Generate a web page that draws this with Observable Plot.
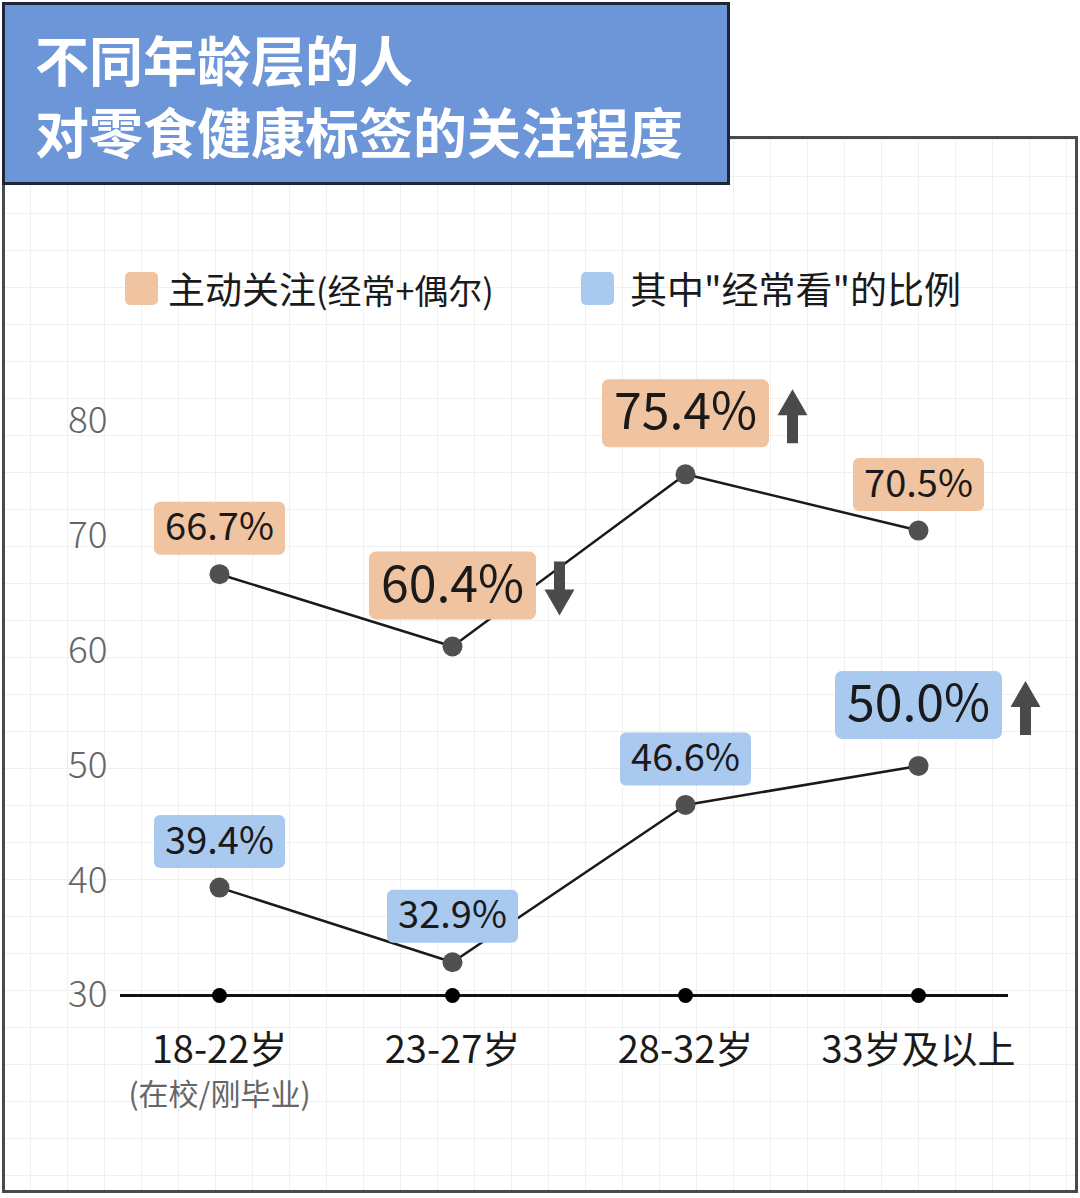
<!DOCTYPE html>
<html>
<head>
<meta charset="utf-8">
<script src="https://cdn.jsdelivr.net/npm/d3@7"></script>
<script src="https://cdn.jsdelivr.net/npm/@observablehq/plot@0.6"></script>
<style>
  html, body { margin: 0; padding: 0; background: #ffffff; }
  body { font-family: "Noto Sans CJK SC", "Noto Sans", sans-serif; }
  #page { position: relative; width: 1080px; height: 1198px; overflow: hidden; }
  #frame {
    position: absolute; left: 2px; top: 136px; width: 1070px; height: 1051px;
    border: 3px solid #4a4a4a;
    background-image: linear-gradient(#f0f0f0 1px, transparent 1px), linear-gradient(90deg, #f0f0f0 1px, transparent 1px);
    background-size: 37px 37px;
    background-position: 25px 0px;
    z-index: 0;
  }
  #chart { position: absolute; left: 0; top: 0; z-index: 1; }
  #title {
    position: absolute; left: 2px; top: 2px; width: 692px; height: 159px;
    padding: 18px 0 0 30px;
    background: #6c96d8; border: 3px solid #1f2636;
    color: #ffffff; font-weight: 700; font-size: 54px; line-height: 72px;
    z-index: 2;
  }
  #legend { position: absolute; left: 0; top: 0; z-index: 2; }
  .item { position: absolute; top: 262px; height: 52px; display: flex; align-items: center; font-size: 37px; color: #1a1a1a; white-space: nowrap; }
  .sw { width: 33px; height: 33px; border-radius: 5px; }
  .sm { font-size: 34px; }
</style>
</head>
<body>
<div id="page">
  <div id="frame"></div>
  <div id="chart"></div>
  <div id="title"></div>
  <div id="legend"></div>
</div>
<script>
// ---- data ----
const titleLines = ["不同年龄层的人", "对零食健康标签的关注程度"];
const ageGroups = ["18-22岁", "23-27岁", "28-32岁", "33岁及以上"];
const ageNotes = ["(在校/刚毕业)", "", "", ""];
const seriesNames = ["主动关注(经常+偶尔)", "其中\"经常看\"的比例"];
const activeAttention = [66.7, 60.4, 75.4, 70.5];
const frequentShare = [39.4, 32.9, 46.6, 50.0];
const yTicks = [30, 40, 50, 60, 70, 80];
// highlighted (large) labels with trend arrows: [series index, age index, direction]
const highlights = [[0, 1, "down"], [0, 2, "up"], [1, 3, "up"]];

// ---- styles ----
const seriesFill = ["#f1c4a1", "#a9c9ef"];

// ---- build table ----
const rows = [];
[activeAttention, frequentShare].forEach((vals, s) => {
  vals.forEach((v, i) => {
    const h = highlights.find(d => d[0] === s && d[1] === i);
    rows.push({series: s, age: ageGroups[i], value: v, big: !!h, dir: h ? h[2] : null});
  });
});

// ---- custom symbols ----
function roundRect(w, h, r) {
  return {draw(ctx) {
    const x0 = -w / 2, y0 = -h / 2, x1 = w / 2, y1 = h / 2;
    ctx.moveTo(x0 + r, y0);
    ctx.lineTo(x1 - r, y0); ctx.arcTo(x1, y0, x1, y0 + r, r);
    ctx.lineTo(x1, y1 - r); ctx.arcTo(x1, y1, x1 - r, y1, r);
    ctx.lineTo(x0 + r, y1); ctx.arcTo(x0, y1, x0, y1 - r, r);
    ctx.lineTo(x0, y0 + r); ctx.arcTo(x0, y0, x0 + r, y0, r);
    ctx.closePath();
  }};
}
function blockArrow(dir) {
  const s = dir === "up" ? 1 : -1;
  return {draw(ctx) {
    ctx.moveTo(0, -27 * s);
    ctx.lineTo(15, -1 * s);
    ctx.lineTo(5.5, -1 * s);
    ctx.lineTo(5.5, 27 * s);
    ctx.lineTo(-5.5, 27 * s);
    ctx.lineTo(-5.5, -1 * s);
    ctx.lineTo(-15, -1 * s);
    ctx.closePath();
  }};
}
const smallBox = roundRect(131, 53, 6);
const bigBox = roundRect(167, 68, 7);

const marks = [];
// baseline
marks.push(Plot.ruleY([30], {stroke: "#111", strokeWidth: 3, insetLeft: -99, insetRight: -90}));
marks.push(Plot.dot(ageGroups, {x: d => d, y: () => 30, r: 7.5, fill: "#000", stroke: "none"}));
// lines
marks.push(Plot.line(rows, {x: "age", y: "value", z: "series", stroke: "#1a1a1a", strokeWidth: 2.5}));
marks.push(Plot.dot(rows, {x: "age", y: "value", r: 10, fill: "#505050", stroke: "none"}));
// label boxes
[0, 1].forEach(s => {
  marks.push(Plot.dot(rows.filter(d => d.series === s && !d.big), {x: "age", y: "value", dy: -46, r: 1, symbol: smallBox, fill: seriesFill[s], stroke: "none"}));
  marks.push(Plot.dot(rows.filter(d => d.series === s && d.big), {x: "age", y: "value", dy: -61, r: 1, symbol: bigBox, fill: seriesFill[s], stroke: "none"}));
});
marks.push(Plot.text(rows.filter(d => !d.big), {x: "age", y: "value", dy: -46, text: d => d.value.toFixed(1) + "%", fontSize: 38, fill: "#1a1a1a"}));
marks.push(Plot.text(rows.filter(d => d.big), {x: "age", y: "value", dy: -61, text: d => d.value.toFixed(1) + "%", fontSize: 50, fill: "#1a1a1a"}));
// arrows
["up", "down"].forEach(dir => {
  marks.push(Plot.dot(rows.filter(d => d.dir === dir), {x: "age", y: "value", dx: 107, dy: -58, r: 1, symbol: blockArrow(dir), fill: "#4a4a4a", stroke: "none"}));
});
// y axis labels
marks.push(Plot.axisY({ticks: yTicks, tickSize: 0, tickPadding: 112, fontSize: 37, fill: "#666", label: null, fontWeight: 300}));
// x labels
marks.push(Plot.text(ageGroups, {x: d => d, y: () => 30, dy: 55, text: d => d, fontSize: 38, fill: "#1a1a1a"}));
marks.push(Plot.text(ageGroups, {x: d => d, y: () => 30, dy: 100, text: (d, i) => ageNotes[i], fontSize: 30, fill: "#666"}));

const chart = Plot.plot({
  width: 1080,
  height: 1198,
  marginLeft: 219,
  marginRight: 162,
  marginTop: 421,
  marginBottom: 203,
  x: {type: "point", domain: ageGroups, padding: 0, axis: null},
  y: {domain: [30, 80], axis: null},
  style: {background: "transparent", fontFamily: "'Noto Sans CJK SC', 'Noto Sans', sans-serif", overflow: "visible"},
  marks
});
document.getElementById("chart").appendChild(chart);

// title
document.getElementById("title").innerHTML = titleLines.map(t => `<div>${t}</div>`).join("");
// legend
const legendX = [[125, 168], [581, 630]];
document.getElementById("legend").innerHTML = seriesNames.map((n, i) =>
  `<div class="item" style="left:${legendX[i][0]}px"><div class="sw" style="background:${seriesFill[i]};margin-right:${legendX[i][1] - legendX[i][0] - 33}px"></div><span>${n.replace(/(\(.*\))/, '<span class="sm">$1</span>')}</span></div>`
).join("");
</script>
</body>
</html>
